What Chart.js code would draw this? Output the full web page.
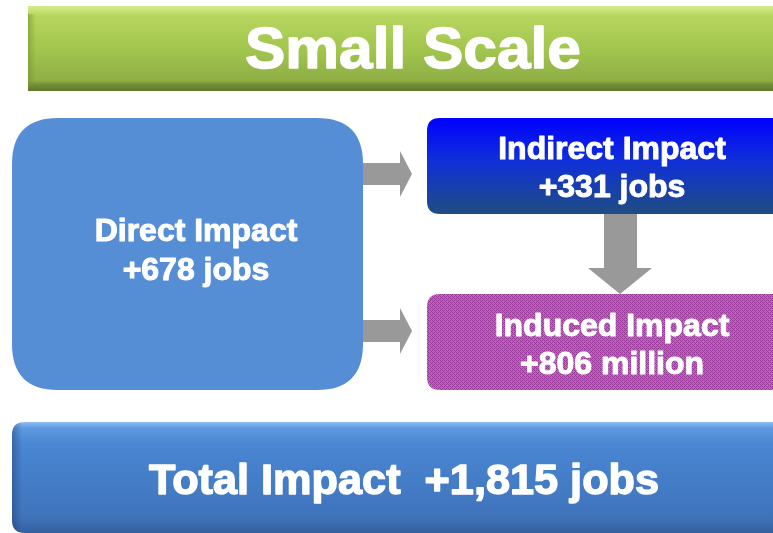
<!DOCTYPE html>
<html>
<head>
<meta charset="utf-8">
<script src="https://cdn.jsdelivr.net/npm/chart.js@4.4.1/dist/chart.umd.min.js"></script>
<style>
  html, body { margin: 0; padding: 0; background: #ffffff; }
  #diagram { display: block; }
</style>
</head>
<body>
<canvas id="diagram" width="773" height="533"></canvas>
<script>
/* Small Scale impact diagram */

// data
const titleText = 'Small Scale';
const stageLabels = ['Direct Impact', 'Indirect Impact', 'Induced Impact'];
const stageValues = [678, 331, 806];
const stageUnits = ['jobs', 'jobs', 'million'];
const totalLabel = 'Total Impact';
const totalValue = 1815;
const totalUnit = 'jobs';

// layout, in scale units (x 0..773, y 0..533 top-down); ty = text baselines
const layout = {
    title: { x0: 28, x1: 790, y0: 6, y1: 91, tx: 413, ty: 68, size: 57, stretch: 1.06 },
    boxes: [
        { x0: 12, x1: 363, y0: 118, y1: 390, r: 46, tx: 196, ty: [241, 280] },
        { x0: 427, x1: 790, y0: 118, y1: 214, r: 13, tx: 612, ty: [159, 197] },
        { x0: 427, x1: 790, y0: 294, y1: 390, r: 13, tx: 612, ty: [336, 374] }
    ],
    total: { x0: 12, x1: 790, y0: 422, y1: 533, r: 13, tx: 404, ty: 494, size: 42, stretch: 1.03 },
    arrowsRight: [{ x0: 363, x1: 412, y: 174 }, { x0: 363, x1: 412, y: 331 }],
    arrowDown: { x: 620, y0: 214, y1: 294 }
};

const FONT = '"Liberation Sans", Arial, sans-serif';
const fmt = v => '+' + v.toLocaleString('en-US');

function roundRect(ctx, x0, y0, x1, y1, r) {
    ctx.beginPath();
    ctx.moveTo(x0 + r, y0);
    ctx.lineTo(x1 - r, y0);
    ctx.quadraticCurveTo(x1, y0, x1, y0 + r);
    ctx.lineTo(x1, y1 - r);
    ctx.quadraticCurveTo(x1, y1, x1 - r, y1);
    ctx.lineTo(x0 + r, y1);
    ctx.quadraticCurveTo(x0, y1, x0, y1 - r);
    ctx.lineTo(x0, y0 + r);
    ctx.quadraticCurveTo(x0, y0, x0 + r, y0);
    ctx.closePath();
}

function dotPattern(ctx) {
    const c = document.createElement('canvas');
    c.width = 4; c.height = 4;
    const p = c.getContext('2d');
    p.fillStyle = '#c462c4';
    p.fillRect(0, 0, 4, 4);
    p.fillStyle = '#963696';
    p.fillRect(0, 0, 1, 1);
    p.fillRect(2, 0, 1, 1);
    p.fillRect(1, 1, 1, 1);
    p.fillRect(0, 2, 1, 1);
    p.fillRect(2, 2, 1, 1);
    p.fillRect(3, 3, 1, 1);
    return ctx.createPattern(c, 'repeat');
}

// white bold text, thickened a little with a thin stroke
function label(ctx, text, x, y, size, stretch = 1) {
    ctx.save();
    ctx.font = `bold ${size}px ${FONT}`;
    ctx.fillStyle = '#ffffff';
    ctx.strokeStyle = '#ffffff';
    ctx.lineWidth = size > 40 ? 1.4 : 1;
    ctx.lineJoin = 'round';
    ctx.textAlign = 'center';
    ctx.textBaseline = 'alphabetic';
    ctx.translate(x, y);
    ctx.scale(stretch, 1);
    ctx.fillText(text, 0, 0);
    ctx.strokeText(text, 0, 0);
    ctx.restore();
}

const diagramPlugin = {
    id: 'diagram',
    afterDraw(chart) {
        const ctx = chart.ctx;
        const sx = v => chart.scales.x.getPixelForValue(v);
        const sy = v => chart.scales.y.getPixelForValue(v);
        ctx.save();

        // title bar
        const t = layout.title;
        let g = ctx.createLinearGradient(0, sy(t.y0), 0, sy(t.y1));
        g.addColorStop(0, '#d6ec8a');
        g.addColorStop(0.12, '#b6d55e');
        g.addColorStop(0.5, '#a3c64f');
        g.addColorStop(0.88, '#8eae44');
        g.addColorStop(0.93, '#6f8c35');
        g.addColorStop(1, '#5f7a2c');
        ctx.fillStyle = g;
        ctx.fillRect(sx(t.x0), sy(t.y0), sx(t.x1) - sx(t.x0), sy(t.y1) - sy(t.y0));
        g = ctx.createLinearGradient(sx(t.x0), 0, sx(t.x0) + 8, 0);
        g.addColorStop(0, 'rgba(120,150,50,0.6)');
        g.addColorStop(1, 'rgba(120,150,50,0)');
        ctx.fillStyle = g;
        ctx.fillRect(sx(t.x0), sy(t.y0) + 8, 8, sy(t.y1) - sy(t.y0) - 12);
        label(ctx, titleText, sx(t.tx), sy(t.ty), t.size, t.stretch);

        // arrows
        ctx.fillStyle = '#999999';
        layout.arrowsRight.forEach(a => {
            const x0 = sx(a.x0), x1 = sx(a.x1), y = sy(a.y);
            ctx.beginPath();
            ctx.moveTo(x0, y - 11);
            ctx.lineTo(x1 - 12, y - 11);
            ctx.lineTo(x1 - 12, y - 23);
            ctx.lineTo(x1, y);
            ctx.lineTo(x1 - 12, y + 23);
            ctx.lineTo(x1 - 12, y + 11);
            ctx.lineTo(x0, y + 11);
            ctx.closePath();
            ctx.fill();
        });
        const d = layout.arrowDown;
        const dx = sx(d.x), dy0 = sy(d.y0), dy1 = sy(d.y1);
        ctx.beginPath();
        ctx.moveTo(dx - 16, dy0);
        ctx.lineTo(dx + 17, dy0);
        ctx.lineTo(dx + 17, dy1 - 26);
        ctx.lineTo(dx + 32, dy1 - 26);
        ctx.lineTo(dx, dy1);
        ctx.lineTo(dx - 32, dy1 - 26);
        ctx.lineTo(dx - 16, dy1 - 26);
        ctx.closePath();
        ctx.fill();

        // stage boxes
        const fills = [
            () => '#558ed5',
            b => {
                const gg = ctx.createLinearGradient(0, sy(b.y0), 0, sy(b.y1));
                gg.addColorStop(0, '#0000ff');
                gg.addColorStop(0.45, '#1030d8');
                gg.addColorStop(1, '#1f4d82');
                return gg;
            },
            () => dotPattern(ctx)
        ];
        layout.boxes.forEach((b, i) => {
            roundRect(ctx, sx(b.x0), sy(b.y0), sx(b.x1), sy(b.y1), b.r);
            ctx.fillStyle = fills[i](b);
            ctx.fill();
            label(ctx, stageLabels[i], sx(b.tx), sy(b.ty[0]), 32);
            label(ctx, fmt(stageValues[i]) + ' ' + stageUnits[i], sx(b.tx), sy(b.ty[1]), 32);
        });

        // total bar
        const tb = layout.total;
        roundRect(ctx, sx(tb.x0), sy(tb.y0), sx(tb.x1), sy(tb.y1), tb.r);
        g = ctx.createLinearGradient(0, sy(tb.y0), 0, sy(tb.y1));
        g.addColorStop(0, '#8cbcf2');
        g.addColorStop(0.06, '#5e98e0');
        g.addColorStop(0.2, '#4a86d2');
        g.addColorStop(0.85, '#3f74bc');
        g.addColorStop(1, '#34609f');
        ctx.fillStyle = g;
        ctx.fill();
        ctx.save();
        roundRect(ctx, sx(tb.x0), sy(tb.y0), sx(tb.x1), sy(tb.y1), tb.r);
        ctx.clip();
        g = ctx.createLinearGradient(sx(tb.x0), 0, sx(tb.x0) + 10, 0);
        g.addColorStop(0, 'rgba(30,60,110,0.45)');
        g.addColorStop(1, 'rgba(30,60,110,0)');
        ctx.fillStyle = g;
        ctx.fillRect(sx(tb.x0), sy(tb.y0), 10, sy(tb.y1) - sy(tb.y0));
        ctx.restore();
        label(ctx, totalLabel + '  ' + fmt(totalValue) + ' ' + totalUnit, sx(tb.tx), sy(tb.ty), tb.size, tb.stretch);

        ctx.restore();
    }
};

new Chart(document.getElementById('diagram'), {
    type: 'scatter',
    data: { datasets: [{ data: [] }] },
    options: {
        responsive: false,
        devicePixelRatio: 1,
        animation: false,
        events: [],
        layout: { padding: 0 },
        plugins: { legend: { display: false }, tooltip: { enabled: false } },
        scales: {
            x: { type: 'linear', min: 0, max: 773, display: false },
            y: { type: 'linear', min: 0, max: 533, reverse: true, display: false }
        }
    },
    plugins: [diagramPlugin]
});
</script>
</body>
</html>
